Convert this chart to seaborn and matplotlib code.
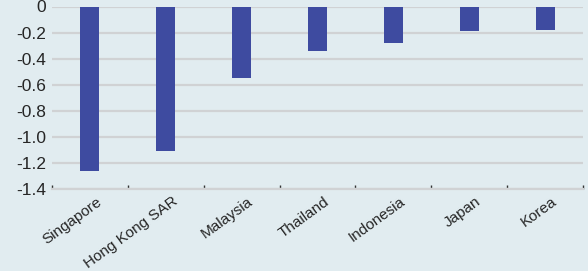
import pandas as pd
import seaborn as sns
import matplotlib.pyplot as plt
from matplotlib import transforms

# values
countries = ['Singapore', 'Hong Kong SAR', 'Malaysia', 'Thailand', 'Indonesia', 'Japan', 'Korea']
values = [-1.26, -1.11, -0.55, -0.34, -0.28, -0.19, -0.18]
yticks = [0, -0.2, -0.4, -0.6, -0.8, -1.0, -1.2, -1.4]
ytick_labels = ['0', '-0.2', '-0.4', '-0.6', '-0.8', '-1.0', '-1.2', '-1.4']

df = pd.DataFrame({'country': countries, 'value': values})

bg = '#e1ecf0'
sns.set_style('white')
plt.rcParams['font.family'] = ['Liberation Sans', 'DejaVu Sans']

fig = plt.figure(figsize=(5.88, 2.71), dpi=100, facecolor=bg)
ax = fig.add_axes([52 / 588, 1 - 189 / 271, 531 / 588, 182.5 / 271])
ax.set_facecolor(bg)

sns.barplot(data=df, x='country', y='value', color='#3e4ba0', width=0.25,
            saturation=1, linewidth=0, ax=ax, zorder=3)

ax.set_ylim(-1.4, 0)
ax.set_xlim(-0.5, len(countries) - 0.5)
ax.set_yticks(yticks)
ax.set_yticklabels(ytick_labels, fontsize=12.5)
ax.yaxis.grid(True, color='#d0d2d4', linewidth=1.6, zorder=0)
ax.tick_params(axis='y', length=0, pad=4)

# tick marks at category boundaries
ax.set_xticks([i + 0.5 for i in range(-1, len(countries))], minor=True)
ax.tick_params(axis='x', which='minor', bottom=True, length=3, width=1,
               color='#333333', direction='in')
ax.set_xticks(range(len(countries)))
ax.set_xticklabels(countries, rotation=36, ha='right', rotation_mode='anchor', fontsize=11)
ax.tick_params(axis='x', which='major', length=0, pad=4)
shift = transforms.ScaledTranslation(6 / 100, 0, fig.dpi_scale_trans)
for lab in ax.get_xticklabels():
    lab.set_transform(lab.get_transform() + shift)

for s in ['top', 'right', 'left']:
    ax.spines[s].set_visible(False)
ax.spines['bottom'].set_color('#d0d2d4')
ax.spines['bottom'].set_linewidth(1.6)
ax.set_xlabel('')
ax.set_ylabel('')

fig.savefig('out.png', dpi=100, facecolor=bg)
